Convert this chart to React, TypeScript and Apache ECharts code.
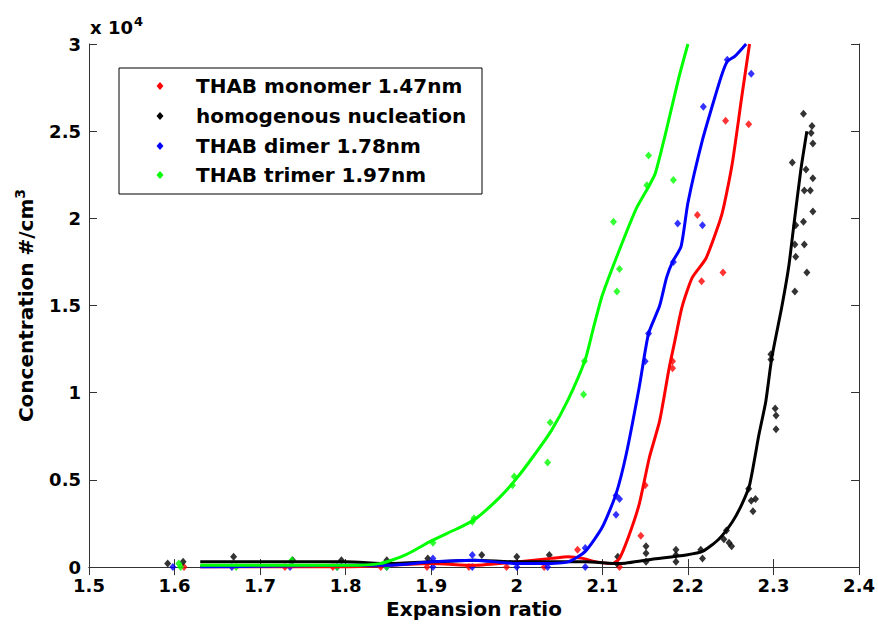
import React, { useEffect, useRef } from "react";
import * as echarts from "echarts";

// x tick labels / axis ranges
const xMin = 1.5;
const xMax = 2.4;
const yMax = 30000;

const seriesNames = [
  "THAB monomer 1.47nm",
  "homogenous nucleation",
  "THAB dimer 1.78nm",
  "THAB trimer 1.97nm",
];
const seriesColors = ["#ff0000", "#000000", "#0000ff", "#00ff00"];

// measured points [expansion ratio, concentration #/cm3]
const monomerPoints = [
  [1.611, 0], [1.729, 0], [1.785, 0], [1.841, 0], [1.895, 0], [1.944, 0], [1.988, 0],
  [2.032, 0], [2.071, 1000], [2.12, 0], [2.145, 1800], [2.15, 4700], [2.182, 11800],
  [2.182, 11400], [2.211, 20200], [2.216, 16400], [2.241, 16900], [2.244, 25600], [2.271, 25400],
];
const homogeneousPoints = [
  [1.592, 200], [1.61, 300], [1.669, 600], [1.738, 400], [1.795, 400], [1.848, 400],
  [1.896, 500], [1.959, 700], [2.0, 600], [2.038, 700], [2.118, 600], [2.117, 200],
  [2.151, 1200], [2.151, 800], [2.151, 300], [2.186, 1000], [2.186, 700], [2.186, 300],
  [2.215, 1000], [2.217, 500], [2.245, 2100], [2.242, 1600], [2.251, 1200], [2.248, 1400],
  [2.271, 4500], [2.279, 3900], [2.274, 3800], [2.276, 3200], [2.297, 12200], [2.297, 11900],
  [2.302, 9100], [2.303, 8700], [2.303, 7900], [2.325, 15800], [2.339, 16900], [2.326, 17800],
  [2.325, 18500], [2.336, 18500], [2.326, 19600], [2.335, 19800], [2.346, 20400], [2.336, 21600],
  [2.343, 21600], [2.346, 22300], [2.338, 22800], [2.322, 23200], [2.346, 24300], [2.344, 24900],
  [2.345, 25300], [2.335, 26000],
];
const dimerPoints = [
  [1.598, 0], [1.667, 0], [1.735, 0], [1.79, 0], [1.848, 0], [1.902, 500], [1.902, 0],
  [1.948, 700], [1.948, 0], [2.0, 0], [2.036, 0], [2.08, 1100], [2.08, 0], [2.116, 4100],
  [2.12, 3900], [2.116, 3000], [2.154, 13400], [2.15, 11800], [2.183, 17500], [2.188, 19700],
  [2.217, 19600], [2.218, 26400], [2.246, 29100], [2.274, 28300],
];
const trimerPoints = [
  [1.605, 200], [1.607, 0], [1.672, 0], [1.737, 400], [1.79, 0], [1.848, 0], [1.902, 1400],
  [1.948, 2600], [1.95, 2800], [1.997, 5200], [1.995, 4700], [2.039, 8300], [2.036, 6000],
  [2.078, 9900], [2.079, 11800], [2.113, 19800], [2.12, 17100], [2.117, 15800], [2.154, 23600],
  [2.152, 21900], [2.183, 22200],
];

// fitted curves
const monomerFit = [
  [1.63, 0], [1.8, 0], [1.85, 100], [1.9, 200], [1.95, 100], [2.0, 300], [2.04, 500],
  [2.06, 600], [2.077, 500], [2.093, 300], [2.112, 200], [2.12, 500], [2.131, 1800],
  [2.143, 3600], [2.155, 6300], [2.167, 8400], [2.178, 11400], [2.184, 12800], [2.193, 14900],
  [2.205, 16600], [2.221, 17700], [2.237, 19800], [2.242, 20700], [2.252, 23200],
  [2.263, 27000], [2.272, 30000],
];
const homogeneousFit = [
  [1.63, 300], [1.7, 300], [1.8, 300], [1.85, 200], [1.9, 300], [1.95, 400], [2.0, 300],
  [2.08, 300], [2.12, 200], [2.158, 450], [2.198, 700], [2.217, 900], [2.236, 1600],
  [2.252, 2600], [2.263, 3600], [2.272, 4700], [2.283, 7600], [2.291, 9500], [2.298, 12000],
  [2.31, 15000], [2.318, 17300], [2.324, 19700], [2.332, 22800], [2.339, 25000],
];
const dimerFit = [
  [1.63, 0], [1.7, 50], [1.8, 100], [1.85, 100], [1.9, 300], [1.95, 400], [2.0, 200],
  [2.03, 200], [2.06, 300], [2.08, 900], [2.1, 2300], [2.116, 4200], [2.128, 6500],
  [2.143, 10300], [2.154, 13400], [2.167, 15000], [2.175, 16600], [2.182, 17500],
  [2.192, 18400], [2.2, 20900], [2.217, 24500], [2.233, 27200], [2.24, 28300], [2.246, 29000],
  [2.255, 29300], [2.268, 30000],
];
const trimerFit = [
  [1.63, 100], [1.7, 100], [1.76, 100], [1.8, 100], [1.84, 200], [1.87, 700], [1.9, 1500],
  [1.93, 2200], [1.95, 2700], [1.98, 4000], [2.0, 5100], [2.02, 6400], [2.04, 7800],
  [2.06, 9600], [2.08, 11900], [2.09, 13800], [2.1, 15600], [2.12, 18200], [2.14, 20600],
  [2.155, 21900], [2.162, 22600], [2.175, 25100], [2.189, 28000], [2.2, 30000],
];

const pointSets = [monomerPoints, homogeneousPoints, dimerPoints, trimerPoints];
const fitSets = [monomerFit, homogeneousFit, dimerFit, trimerFit];

const FONT = "DejaVu Sans";

export default function App() {
  const ref = useRef<HTMLDivElement>(null);

  useEffect(() => {
    if (!ref.current) return;
    const chart = echarts.init(ref.current, null, { renderer: "svg" });

    const axisLine = { show: true, lineStyle: { color: "#333", width: 1 } };
    const tick = { show: true, inside: true, length: 8, lineStyle: { color: "#333", width: 1 } };
    const labelStyle = { color: "#000", fontSize: 18, fontWeight: "bold" as const, fontFamily: FONT };

    const series: any[] = [];
    pointSets.forEach((pts, i) => {
      series.push({
        type: "scatter",
        name: seriesNames[i],
        data: pts,
        symbol: "diamond",
        symbolSize: [7, 8],
        itemStyle: { color: seriesColors[i] },
        z: 2,
      });
    });
    fitSets.forEach((pts, i) => {
      series.push({
        type: "line",
        name: seriesNames[i],
        data: pts,
        showSymbol: false,
        smooth: 0.2,
        lineStyle: { color: seriesColors[i], width: 3, join: "round" },
        itemStyle: { color: seriesColors[i] },
        z: 3,
      });
    });

    // legend drawn as graphic elements (box, diamond markers, labels)
    const legendLeft = 119;
    const legendTop = 68;
    const legendW = 363;
    const legendH = 126;
    const rowY = [86, 116, 146, 175];
    const legendEls: any[] = [
      {
        type: "rect",
        shape: { x: legendLeft, y: legendTop, width: legendW, height: legendH },
        style: { fill: "#fff", stroke: "#000", lineWidth: 1 },
        z: 10,
      },
    ];
    seriesNames.forEach((nm, i) => {
      legendEls.push({
        type: "polygon",
        shape: { points: [[160, rowY[i] - 4], [163.5, rowY[i]], [160, rowY[i] + 4], [156.5, rowY[i]]] },
        style: { fill: seriesColors[i] },
        z: 11,
      });
      legendEls.push({
        type: "text",
        x: 196,
        y: rowY[i],
        style: {
          text: nm,
          fill: "#000",
          font: `bold 20px "${FONT}"`,
          verticalAlign: "middle",
          align: "left",
        },
        z: 11,
      });
    });

    chart.setOption({
      animation: false,
      backgroundColor: "#fff",
      grid: { left: 89, right: 18, top: 44, bottom: 53, containLabel: false },
      xAxis: [
        {
          type: "value",
          min: xMin,
          max: xMax,
          interval: 0.1,
          axisLine,
          axisTick: tick,
          splitLine: { show: false },
          axisLabel: {
            ...labelStyle,
            margin: 9,
            formatter: (v: number) => String(parseFloat(v.toFixed(1))),
          },
          name: "Expansion ratio",
          nameLocation: "middle",
          nameGap: 31,
          nameTextStyle: { color: "#000", fontSize: 20, fontWeight: "bold", fontFamily: FONT },
        },
        {
          type: "value",
          position: "top",
          min: xMin,
          max: xMax,
          interval: 0.1,
          axisLine,
          axisTick: tick,
          splitLine: { show: false },
          axisLabel: { show: false },
        },
      ],
      yAxis: [
        {
          type: "value",
          min: 0,
          max: yMax,
          interval: 5000,
          axisLine,
          axisTick: tick,
          splitLine: { show: false },
          axisLabel: {
            ...labelStyle,
            lineHeight: 14,
            margin: 8,
            formatter: (v: number) => String(parseFloat((v / 10000).toFixed(1))),
          },
          name: "Concentration #/cm{sup|3}",
          nameLocation: "middle",
          nameGap: 50,
          nameTextStyle: {
            color: "#000",
            fontSize: 20,
            fontWeight: "bold",
            fontFamily: FONT,
            rich: {
              sup: { fontSize: 14, fontWeight: "bold", fontFamily: FONT, color: "#000", verticalAlign: "top", padding: [0, 0, 12, 0] },
            },
          },
        },
        {
          type: "value",
          position: "right",
          min: 0,
          max: yMax,
          interval: 5000,
          axisLine,
          axisTick: tick,
          splitLine: { show: false },
          axisLabel: { show: false },
        },
      ],
      graphic: [
        {
          type: "text",
          left: 90,
          top: 15,
          style: {
            text: "x 10{sup|4}",
            fill: "#000",
            font: `bold 18px "${FONT}"`,
            rich: {
              sup: { fontSize: 13, fontWeight: "bold", fontFamily: FONT, fill: "#000", padding: [0, 0, 12, 1] },
            },
          },
        },
        ...legendEls,
      ],
      series,
    });

    return () => chart.dispose();
  }, []);

  return <div ref={ref} style={{ width: 878, height: 624, position: "fixed", left: 0, top: 0 }} />;
}
